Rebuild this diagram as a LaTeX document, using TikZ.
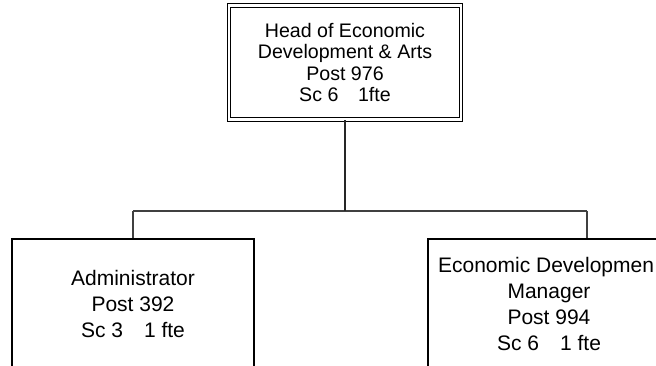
\documentclass[tikz,border=0pt]{standalone}
\usepackage{fontspec}
\setmainfont{Liberation Sans}
\begin{document}
\begin{tikzpicture}[x=1pt,y=-1pt,
  headbox/.style={draw=black, double=white, double distance=2.6pt, line width=1.1pt,
    minimum width=232pt, minimum height=114pt, align=center, inner sep=0pt,
    font=\fontsize{19.6}{21.5}\selectfont},
  postbox/.style={draw=black, line width=1.4pt, minimum width=242pt, minimum height=130pt,
    align=center, inner sep=0pt, font=\fontsize{21}{25.8}\selectfont},
  link/.style={draw=black!75, line width=1.1pt}]
\useasboundingbox (0,0) rectangle (656,366);
\clip (0,0) rectangle (656,366);

% head of department
\node[headbox] (head) at (345,62.5)
  {Head of Economic\\Development \& Arts\\Post 976\\Sc 6\quad 1fte};

% reporting posts
\node[postbox] (admin) at (133,304)
  {Administrator\\Post 392\\Sc 3\quad 1 fte};
\node[postbox] (edm) at (549,304)
  {Economic Developmen\phantom{t}\\Manager\\Post 994\\Sc 6\quad 1 fte};

% connector bus
\coordinate (busL) at (133,211);
\coordinate (busR) at (587,211);
\draw[link] (busL) -- (busR);
\draw[link, line width=1.5pt, draw=black!85] (head.south) -- (head.south |- busL);
\draw[link] (busL) -- (busL |- admin.north);
\draw[link] (busR) -- (busR |- edm.north);
\end{tikzpicture}
\end{document}
